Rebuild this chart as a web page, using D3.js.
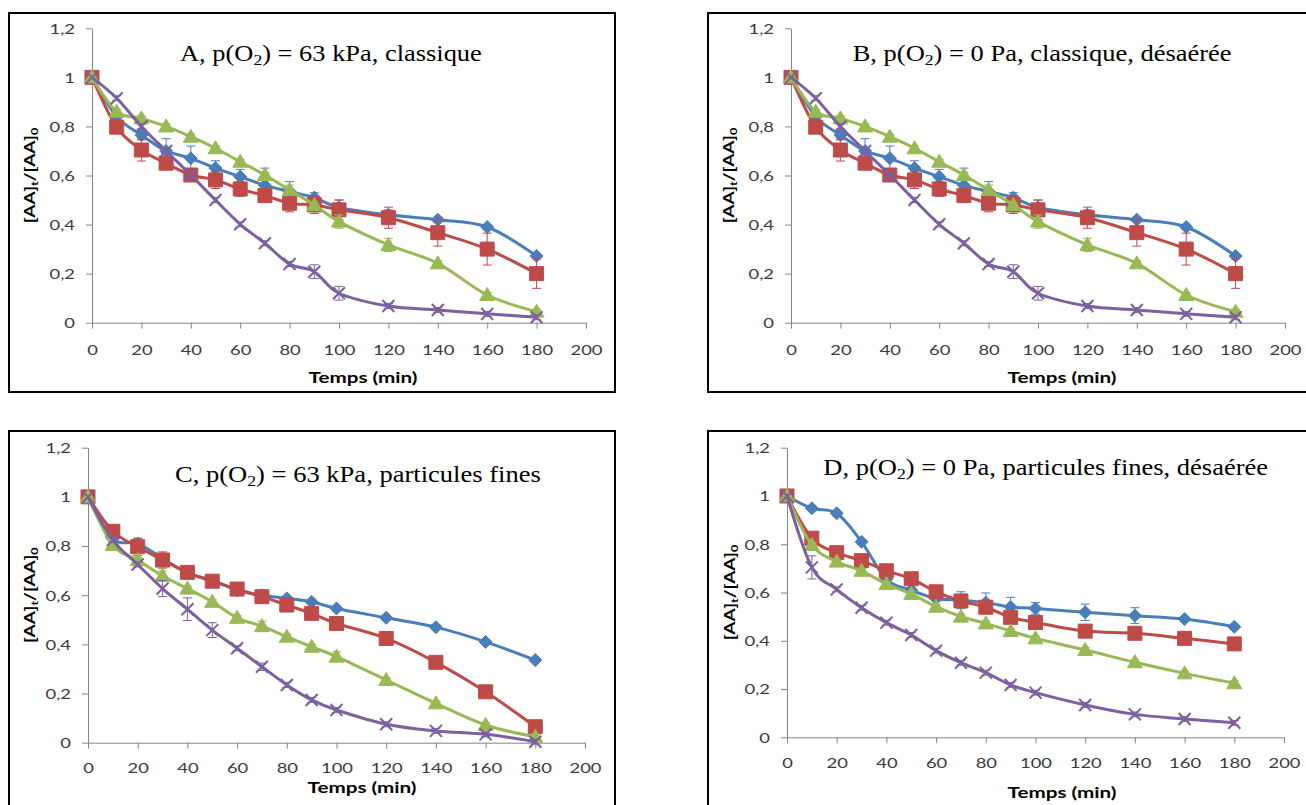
<!DOCTYPE html>
<html><head><meta charset="utf-8">
<script src="https://cdn.jsdelivr.net/npm/d3@7"></script>
<style>body{margin:0;background:#fff}svg{display:block}</style>
</head><body>
<svg id="chart" width="1306" height="805"></svg>
<script>
// ---------- DATA ----------
const times = [0,10,20,30,40,50,60,70,80,90,100,120,140,160,180];
const xTickValues = [0,20,40,60,80,100,120,140,160,180,200];
const yTickValues = [0,0.2,0.4,0.6,0.8,1,1.2];
const yTickLabels = ["0","0,2","0,4","0,6","0,8","1","1,2"];
const xAxisTitle = "Temps (min)";

// Panel A (and B, identical in the source figure)
const A_blue   = [1,0.84,0.765,0.70,0.67,0.63,0.595,0.56,0.535,0.51,0.47,0.44,0.42,0.39,0.272];
const A_red    = [1,0.797,0.704,0.65,0.602,0.582,0.545,0.518,0.487,0.48,0.46,0.428,0.367,0.30,0.20];
const A_green  = [1,0.86,0.833,0.80,0.758,0.711,0.656,0.602,0.541,0.48,0.412,0.317,0.242,0.113,0.045];
const A_purple = [1,0.915,0.80,0.70,0.602,0.50,0.401,0.324,0.239,0.208,0.12,0.068,0.052,0.036,0.022];
const A_blueErr   = [0,0,0.02,0.05,0.05,0.03,0.03,0.07,0.04,0.02,0.03,0.02,0.01,0.01,0.01];
const A_redErr    = [0,0.01,0.045,0.02,0.02,0.035,0.03,0.02,0.035,0.035,0.04,0.043,0.055,0.065,0.06];
const A_greenErr  = [0,0.01,0.01,0.01,0.01,0.01,0.01,0.01,0.02,0.01,0.027,0.027,0.01,0.01,0.01];
const A_purpleErr = [0,0.01,0.01,0.01,0.01,0.01,0.01,0.01,0.01,0.028,0.028,0.01,0.01,0.01,0.01];

const B_blue = A_blue, B_red = A_red, B_green = A_green, B_purple = A_purple;
const B_blueErr = A_blueErr, B_redErr = A_redErr, B_greenErr = A_greenErr, B_purpleErr = A_purpleErr;

// Panel C
const C_blue   = [1,0.83,0.81,0.75,0.69,0.66,0.62,0.60,0.587,0.573,0.546,0.508,0.47,0.41,0.336];
const C_red    = [1,0.86,0.797,0.743,0.693,0.657,0.625,0.594,0.56,0.526,0.485,0.424,0.327,0.207,0.065];
const C_green  = [1,0.804,0.743,0.679,0.627,0.573,0.508,0.474,0.431,0.39,0.35,0.255,0.16,0.072,0.024];
const C_purple = [1,0.824,0.725,0.627,0.543,0.458,0.384,0.309,0.235,0.174,0.133,0.075,0.048,0.034,0.004];
const C_blueErr   = [0,0.01,0.02,0.01,0.01,0.01,0.01,0.01,0.01,0.01,0.01,0.01,0.01,0.01,0.01];
const C_redErr    = [0,0.01,0.035,0.033,0.01,0.02,0.01,0.01,0.01,0.01,0.01,0.01,0.01,0.01,0.01];
const C_greenErr  = [0,0.01,0.01,0.02,0.01,0.01,0.01,0.02,0.01,0.01,0.02,0.01,0.01,0.01,0.01];
const C_purpleErr = [0,0.01,0.01,0.033,0.046,0.03,0.01,0.015,0.01,0.01,0.01,0.01,0.01,0.01,0.01];

// Panel D
const D_blue   = [1,0.949,0.928,0.81,0.655,0.61,0.575,0.568,0.558,0.54,0.534,0.518,0.504,0.49,0.458];
const D_red    = [1,0.825,0.765,0.732,0.69,0.657,0.603,0.565,0.539,0.497,0.476,0.44,0.431,0.41,0.387];
const D_green  = [1,0.797,0.728,0.69,0.635,0.594,0.541,0.50,0.472,0.44,0.41,0.362,0.311,0.265,0.224];
const D_purple = [1,0.704,0.613,0.537,0.475,0.424,0.359,0.309,0.268,0.217,0.185,0.134,0.095,0.076,0.06];
const D_blueErr   = [0,0.01,0.01,0.01,0.01,0.01,0.01,0.035,0.04,0.04,0.024,0.034,0.033,0.01,0.01];
const D_redErr    = [0,0.01,0.01,0.01,0.01,0.01,0.02,0.01,0.01,0.01,0.01,0.01,0.02,0.01,0.01];
const D_greenErr  = [0,0.01,0.01,0.01,0.01,0.01,0.01,0.01,0.01,0.01,0.01,0.01,0.01,0.01,0.01];
const D_purpleErr = [0,0.048,0.01,0.01,0.01,0.01,0.01,0.01,0.01,0.01,0.01,0.01,0.01,0.01,0.01];

const titleA = ["A, p(O","2",") = 63 kPa, classique"];
const titleB = ["B, p(O","2",") = 0 Pa, classique, désaérée"];
const titleC = ["C, p(O","2",") = 63 kPa, particules fines"];
const titleD = ["D, p(O","2",") = 0 Pa, particules fines, désaérée"];

// ---------- STYLE / LAYOUT ----------
const colors = {blue:"#4A7EBB", red:"#BE4B48", green:"#98B954", purple:"#7D60A0"};
const axisColor = "#868686";
const tickFont = "Lato, 'Open Sans', sans-serif";

const panels = [
  {series:[[A_blue,A_blueErr,"blue"],[A_red,A_redErr,"red"],[A_green,A_greenErr,"green"],[A_purple,A_purpleErr,"purple"]],
   box:{x:9,y:13,w:606,h:379}, x0:92,x1:586,yTop:28.3,yBot:322.7,
   title:{parts:titleA,x:180,w:302,y:61}, xlab:{cx:363,cy:378}, ylab:{cx:29.5}, xtOff:27},
  {series:[[B_blue,B_blueErr,"blue"],[B_red,B_redErr,"red"],[B_green,B_greenErr,"green"],[B_purple,B_purpleErr,"purple"]],
   box:{x:708,y:13,w:620,h:379}, x0:791,x1:1285,yTop:28.3,yBot:322.7,
   title:{parts:titleB,x:852.7,w:379,y:61}, xlab:{cx:1062,cy:378}, ylab:{cx:729}, xtOff:27},
  {series:[[C_blue,C_blueErr,"blue"],[C_red,C_redErr,"red"],[C_green,C_greenErr,"green"],[C_purple,C_purpleErr,"purple"]],
   box:{x:9,y:431,w:606,h:420}, x0:88,x1:585,yTop:447.7,yBot:742.7,
   title:{parts:titleC,x:175,w:366,y:482}, xlab:{cx:362,cy:788}, ylab:{cx:29.5}, xtOff:25},
  {series:[[D_blue,D_blueErr,"blue"],[D_red,D_redErr,"red"],[D_green,D_greenErr,"green"],[D_purple,D_purpleErr,"purple"]],
   box:{x:708,y:431,w:620,h:420}, x0:787,x1:1284,yTop:447.7,yBot:737.3,
   title:{parts:titleD,x:823.3,w:445,y:475}, xlab:{cx:1062,cy:793}, ylab:{cx:729.5}, xtOff:26}
];

const svg = d3.select("#chart");

const markerPath = {
  blue:   "M0,-6.5L6.5,0L0,6.5L-6.5,0Z",
  red:    "M-7,-7H7V7H-7Z",
  green:  "M0,-7.5L7.5,5.5L-7.5,5.5Z",
  purple: "M-6,-6L6,6M-6,6L6,-6"
};

function fit(sel, target){
  const w = sel.node().getBBox().width;
  return target / w;
}

panels.forEach(p => {
  const g = svg.append("g");
  // frame
  g.append("rect").attr("x",p.box.x).attr("y",p.box.y).attr("width",p.box.w).attr("height",p.box.h)
    .attr("fill","none").attr("stroke","#000").attr("stroke-width",2);

  const x = d3.scaleLinear().domain([0,200]).range([p.x0,p.x1]);
  const y = d3.scaleLinear().domain([0,1.2]).range([p.yBot,p.yTop]);

  // axes
  const xa = g.append("g").attr("transform",`translate(0,${p.yBot})`)
    .call(d3.axisBottom(x).tickValues(xTickValues).tickSize(6).tickSizeOuter(0).tickFormat(d3.format("d")));
  const ya = g.append("g").attr("transform",`translate(${p.x0},0)`)
    .call(d3.axisLeft(y).tickValues(yTickValues).tickSize(6).tickSizeOuter(0).tickFormat((d,i)=>yTickLabels[i]));
  [xa,ya].forEach(a => {
    a.select(".domain").attr("stroke",axisColor);
    a.selectAll(".tick line").attr("stroke",axisColor);
    a.selectAll(".tick text").attr("font-family",tickFont).attr("font-size",14).attr("fill","#3a3a3a");
  });
  // horizontal stretch of tick labels to match reference
  const t200 = xa.selectAll(".tick text").filter(d=>d===200);
  const k = fit(t200, 32);
  xa.selectAll(".tick text").attr("x",0).attr("y",0).attr("dy","0.35em")
    .attr("transform",`translate(0,${p.xtOff}) scale(${k},1)`);
  ya.selectAll(".tick text").attr("x",0).attr("dy","0.35em").attr("text-anchor","end")
    .attr("transform",`translate(-17,0) scale(${k},1)`);

  // x axis title
  const xt = g.append("text").text(xAxisTitle).attr("font-family",tickFont).attr("font-weight","bold")
    .attr("font-size",15).attr("fill","#000").attr("text-anchor","middle").attr("dy","0.35em");
  const kx = fit(xt,109);
  xt.attr("transform",`translate(${p.xlab.cx},${p.xlab.cy}) scale(${kx},1)`);

  // y axis title
  const yt = g.append("text").attr("font-family",tickFont).attr("font-weight","bold")
    .attr("font-size",15).attr("fill","#000").attr("text-anchor","middle").attr("dy","0.35em");
  yt.append("tspan").text("[AA]");
  yt.append("tspan").text("t").attr("font-size",10).attr("dy","0.3em");
  yt.append("tspan").text("/[AA]").attr("dy","-0.2em");
  yt.append("tspan").text("0").attr("font-size",10).attr("dy","0.3em");
  const ky = fit(yt,96);
  yt.attr("transform",`translate(${p.ylab.cx},${(p.yTop+p.yBot)/2}) rotate(-90) scale(${ky},1)`);

  // title
  const tt = g.append("text").attr("font-family","'Liberation Serif', 'Times New Roman', serif")
    .attr("font-size",22.5).attr("fill","#000");
  tt.append("tspan").text(p.title.parts[0]);
  tt.append("tspan").text(p.title.parts[1]).attr("font-size",15).attr("dy",4);
  tt.append("tspan").text(p.title.parts[2]).attr("dy",-4);
  const kt = fit(tt,p.title.w);
  tt.attr("transform",`translate(${p.title.x},${p.title.y}) scale(${kt},1)`);

  const line = d3.line().x((d,i)=>x(times[i])).y(d=>y(d)).curve(d3.curveCatmullRom.alpha(0));

  p.series.forEach(([vals,errs,c]) => {
    const col = colors[c];
    const sg = g.append("g");
    // error bars
    const eb = sg.selectAll("g.eb").data(vals.map((v,i)=>({t:times[i],v,e:errs[i]})).filter(d=>d.e>0))
      .join("g");
    eb.append("line").attr("x1",d=>x(d.t)).attr("x2",d=>x(d.t)).attr("y1",d=>y(d.v-d.e)).attr("y2",d=>y(d.v+d.e))
      .attr("stroke",col).attr("stroke-width",1);
    eb.append("line").attr("x1",d=>x(d.t)-4.5).attr("x2",d=>x(d.t)+4.5).attr("y1",d=>y(d.v-d.e)).attr("y2",d=>y(d.v-d.e))
      .attr("stroke",col).attr("stroke-width",1);
    eb.append("line").attr("x1",d=>x(d.t)-4.5).attr("x2",d=>x(d.t)+4.5).attr("y1",d=>y(d.v+d.e)).attr("y2",d=>y(d.v+d.e))
      .attr("stroke",col).attr("stroke-width",1);
    // line
    sg.append("path").attr("d",line(vals)).attr("fill","none").attr("stroke",col).attr("stroke-width",3)
      .attr("stroke-linejoin","round");
    // markers
    sg.selectAll("path.m").data(vals).join("path").attr("class","m")
      .attr("transform",(d,i)=>`translate(${x(times[i])},${y(d)})`)
      .attr("d",markerPath[c])
      .attr("fill",c==="purple"?"none":col)
      .attr("stroke",col)
      .attr("stroke-width",c==="purple"?2:1);
  });
});
</script>
</body></html>
